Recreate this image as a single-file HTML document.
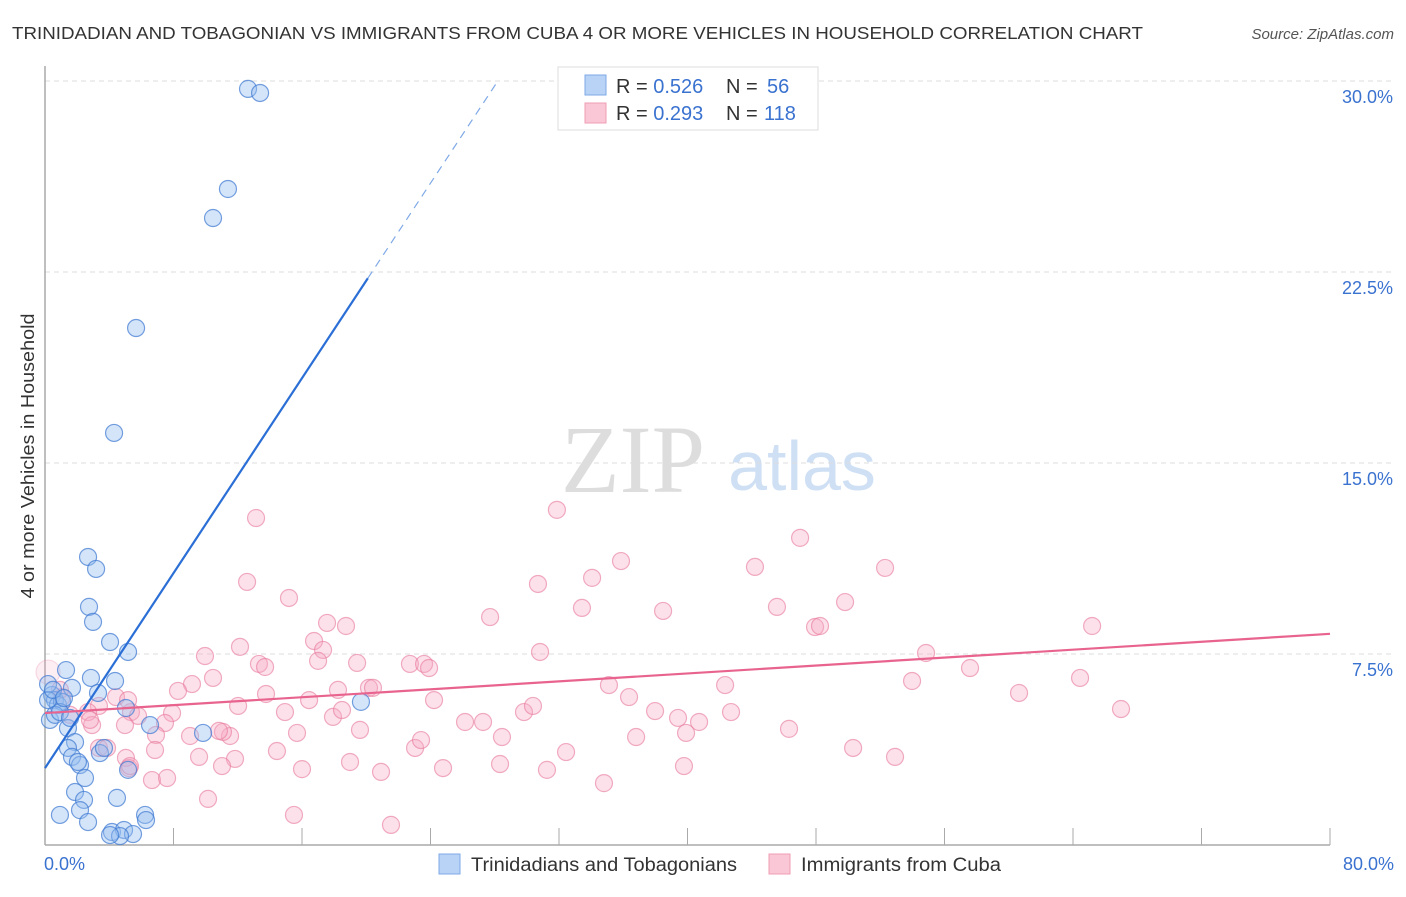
<!DOCTYPE html>
<html><head><meta charset="utf-8"><style>
body{margin:0;background:#fff;font-family:"Liberation Sans",sans-serif;}
svg text{font-family:"Liberation Sans",sans-serif;}
</style></head><body>
<svg id="chart" width="1406" height="892" viewBox="0 0 1406 892">
<text x="12" y="39" font-size="17.5" fill="#333" textLength="1131" lengthAdjust="spacingAndGlyphs">TRINIDADIAN AND TOBAGONIAN VS IMMIGRANTS FROM CUBA 4 OR MORE VEHICLES IN HOUSEHOLD CORRELATION CHART</text>
<text x="1394" y="39" font-size="15" fill="#555" font-style="italic" text-anchor="end">Source: ZipAtlas.com</text>
<text transform="translate(34,456) rotate(-90)" font-size="18" fill="#333" text-anchor="middle" textLength="285" lengthAdjust="spacingAndGlyphs">4 or more Vehicles in Household</text>
<g>
<text x="633" y="492" font-size="96" fill="#ddd" text-anchor="middle" font-family="Liberation Serif" style="font-family:'Liberation Serif',serif">ZIP</text>
<text x="802" y="490" font-size="70" fill="#cfe0f5" text-anchor="middle">atlas</text>
</g>
<g id="grid"></g>
<g id="axes"></g>
<g id="marks"></g>
<g>
<rect x="558" y="67" width="260" height="63" fill="#fff" stroke="#ddd"/>
<rect x="585" y="75" width="21" height="20" fill="#b8d3f5" stroke="#7fa9e6"/>
<rect x="585" y="103" width="21" height="20" fill="#f9c7d5" stroke="#ef9db5"/>
<text x="616" y="93" font-size="20" fill="#333">R = <tspan fill="#3a72d0">0.526</tspan><tspan x="726">N = </tspan><tspan x="767" fill="#3a72d0">56</tspan></text>
<text x="616" y="120" font-size="20" fill="#333">R = <tspan fill="#3a72d0">0.293</tspan><tspan x="726">N = </tspan><tspan x="764" fill="#3a72d0">118</tspan></text>
</g>
<g>
<rect x="439" y="854" width="21" height="20" fill="#b8d3f5" stroke="#7fa9e6"/>
<text x="471" y="871" font-size="19" fill="#333" textLength="266" lengthAdjust="spacingAndGlyphs">Trinidadians and Tobagonians</text>
<rect x="769" y="854" width="21" height="20" fill="#f9c7d5" stroke="#ef9db5"/>
<text x="801" y="871" font-size="19" fill="#333" textLength="200" lengthAdjust="spacingAndGlyphs">Immigrants from Cuba</text>
</g>
</svg>
<script>
const yTicks=[7.5,15,22.5,30];
const yTickLabels=["7.5%","15.0%","22.5%","30.0%"];
const xTickCount=10;
const xMin=0,xMax=80,yMin=0,yMax=30;
const blueX=[12.64,13.39,11.39,10.46,5.67,4.30,2.68,3.18,2.74,2.99,4.05,5.17,1.31,2.86,4.36,1.68,3.30,0.44,0.19,0.62,0.81,1.06,5.04,6.54,9.84,19.67,0.31,0.62,0.93,1.43,1.87,1.43,1.68,2.18,2.05,3.42,3.67,2.49,1.87,2.43,4.48,5.17,2.18,2.68,0.93,6.23,6.29,4.17,4.92,5.48,4.67,0.19,0.50,1.18,1.56,4.05];
const blueY=[29.69,29.53,25.76,24.62,20.30,16.18,11.31,10.84,9.35,8.76,7.97,7.58,6.87,6.56,6.44,6.17,5.97,5.89,6.32,5.69,5.50,5.62,5.38,4.71,4.40,5.62,4.91,5.11,5.22,4.59,4.04,3.81,3.46,3.14,3.26,3.61,3.81,2.63,2.08,1.77,1.85,2.95,1.37,0.90,1.18,1.18,0.98,0.51,0.59,0.43,0.35,5.69,6.09,5.77,4.99,0.39];
const pinkX=[0.19,13.14,31.87,35.86,47.01,12.58,30.69,34.06,44.20,52.30,15.19,27.71,33.43,38.48,45.57,49.81,65.19,17.56,18.74,16.75,17.31,12.14,9.96,13.32,13.70,17.00,19.43,22.72,23.60,23.91,30.82,47.94,48.25,54.85,57.59,10.46,9.15,8.28,13.76,16.44,18.24,20.17,20.42,24.22,35.11,36.36,42.34,53.98,60.64,64.44,66.99,12.02,14.94,17.93,18.49,29.82,30.38,37.98,39.41,40.72,42.71,7.91,5.35,5.79,3.36,2.68,1.06,0.93,4.42,5.17,7.47,6.91,4.98,2.93,2.80,1.56,9.03,11.52,11.08,10.83,15.69,19.61,26.15,27.27,28.45,36.80,39.91,46.32,50.31,52.92,5.04,6.85,3.36,3.86,9.59,11.83,11.02,14.44,23.04,23.41,32.44,5.23,6.66,7.60,16.00,18.99,24.78,28.33,31.25,39.78,20.92,10.15,15.50,21.54,34.80,5.29];
const pinkY=[6.79,12.84,13.16,11.15,12.06,10.33,10.25,10.49,10.92,10.88,9.70,8.95,9.31,9.19,9.35,9.54,8.60,8.72,8.60,8.01,7.66,7.78,7.42,7.11,6.99,7.23,7.15,7.11,7.11,6.95,7.58,8.56,8.60,7.54,6.95,6.56,6.32,6.05,5.93,5.69,6.09,6.17,6.17,5.69,6.28,5.81,6.28,6.44,5.97,6.56,5.34,5.46,5.22,5.03,5.30,5.22,5.46,5.26,4.99,4.83,5.22,5.18,5.22,5.07,5.46,5.22,5.81,6.09,5.81,5.69,4.79,4.32,4.71,4.71,4.91,5.11,4.28,4.28,4.44,4.48,4.40,4.52,4.83,4.83,4.24,4.24,4.40,4.56,3.81,3.46,3.42,3.73,3.81,3.81,3.46,3.38,3.10,3.69,3.81,4.12,3.65,3.02,2.55,2.63,2.98,3.26,3.02,3.18,2.95,3.10,2.87,1.81,1.18,0.79,2.43,3.10];
const blueTrend=[3.02,0.957];
const pinkTrend=[5.18,0.0389];

const NS="http://www.w3.org/2000/svg";
const L=45,R=1330,T=81,B=845;
const sx=v=>L+(v-xMin)/(xMax-xMin)*(R-L);
const sy=v=>B-(v-yMin)/(yMax-yMin)*(B-T);
function mk(tag,attrs,parent){const e=document.createElementNS(NS,tag);for(const k in attrs)e.setAttribute(k,attrs[k]);parent.appendChild(e);return e;}
const grid=document.getElementById('grid'),axes=document.getElementById('axes'),marks=document.getElementById('marks');
yTicks.forEach((t,i)=>{
  const g=mk('line',{x1:L,x2:1394,y1:sy(t),y2:sy(t),stroke:'#ddd','stroke-dasharray':'5,4'},grid);
  
  
  const tx=mk('text',{x:1393,y:sy(t)+22,'font-size':18,fill:'#3a72d0','text-anchor':'end'},axes);
  tx.textContent=yTickLabels[i];
  
  
});
const ax=mk('line',{x1:L,x2:R,y1:B,y2:B,stroke:'#aaa','stroke-width':1.5},axes);


const ay=mk('line',{x1:L,x2:L,y1:66,y2:B,stroke:'#aaa','stroke-width':1.5},axes);


for(let i=1;i<=xTickCount;i++){
  const v=xMin+i*(xMax-xMin)/xTickCount;
  const tk=mk('line',{x1:sx(v),x2:sx(v),y1:828,y2:B,stroke:'#aaa'},axes);
  
  
}
const xl0=mk('text',{x:44,y:870,'font-size':18,fill:'#3a72d0'},axes);xl0.textContent=xMin.toFixed(1)+'%';


const xl1=mk('text',{x:1394,y:870,'font-size':18,fill:'#3a72d0','text-anchor':'end'},axes);xl1.textContent=xMax.toFixed(1)+'%';



pinkX.forEach((x,i)=>{
  const c=mk('circle',{cx:sx(x),cy:sy(pinkY[i]),r:i===0?12:8.5,fill:i===0?'rgba(246,170,195,0.2)':'rgba(246,170,195,0.35)',stroke:i===0?'rgba(232,120,155,0.25)':'rgba(232,120,155,0.6)','stroke-width':1.2},marks);
  
  
});
blueX.forEach((x,i)=>{
  const c=mk('circle',{cx:sx(x),cy:sy(blueY[i]),r:8.5,fill:'rgba(150,190,240,0.4)',stroke:'rgba(60,120,210,0.7)','stroke-width':1.2},marks);
  
  
});
const bEnd=20.1, bDashEnd=(yMax-blueTrend[0])/blueTrend[1];
const bl=mk('line',{x1:sx(0),y1:sy(blueTrend[0]),x2:sx(bEnd),y2:sy(blueTrend[0]+blueTrend[1]*bEnd),stroke:'#2b6fd6','stroke-width':2.2},marks);


const bd=mk('line',{x1:sx(bEnd),y1:sy(blueTrend[0]+blueTrend[1]*bEnd),x2:sx(bDashEnd),y2:sy(yMax),stroke:'#7fa9e6','stroke-width':1.2,'stroke-dasharray':'8,6'},marks);


const pl=mk('line',{x1:sx(0),y1:sy(pinkTrend[0]),x2:sx(xMax),y2:sy(pinkTrend[0]+pinkTrend[1]*xMax),stroke:'#e8648f','stroke-width':2.2},marks);


</script>
</body></html>
